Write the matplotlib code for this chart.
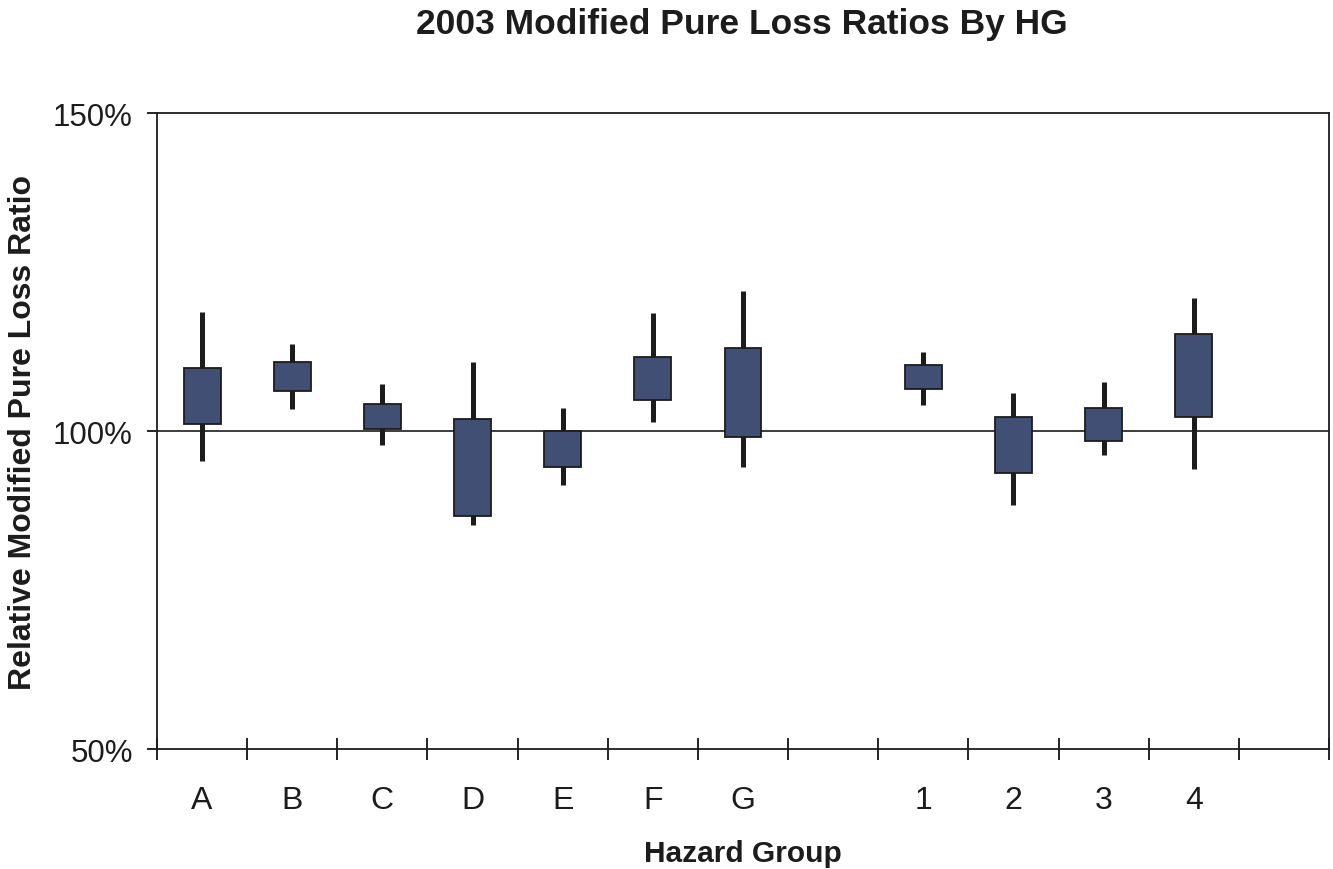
import matplotlib
matplotlib.use("Agg")
import matplotlib.pyplot as plt
from matplotlib.ticker import FixedLocator, FuncFormatter
import numpy as np

# valores (em %)
labels = ["A", "B", "C", "D", "E", "F", "G", "", "1", "2", "3", "4", ""]
high = [118.8, 113.8, 107.4, 110.9, 103.7, 118.6, 122.1, None, 112.5, 106.0, 107.7, 120.9, None]
box_top = [110.0, 110.9, 104.3, 102.0, 100.1, 111.7, 113.1, None, 110.4, 102.3, 103.7, 115.3, None]
box_bottom = [101.2, 106.4, 100.3, 86.6, 94.4, 104.9, 99.1, None, 106.7, 93.4, 98.5, 102.3, None]
low = [95.3, 103.5, 97.9, 85.3, 91.6, 101.4, 94.4, None, 104.1, 88.4, 96.2, 94.0, None]
yticks = [50, 100, 150]

box_color = "#424f74"
dark = "#1c1c1c"
plt.rcParams["font.family"] = ["Liberation Sans", "DejaVu Sans"]

fig = plt.figure(figsize=(13.33, 8.7), dpi=100)
ax = fig.add_axes([0.1178, 0.1379, 0.8792, 0.7305])

centers = np.arange(len(labels)) + 0.5
idx = [i for i, h in enumerate(high) if h is not None]

# linhas de maximo/minimo (atras das caixas)
ax.vlines([centers[i] for i in idx], [low[i] for i in idx], [high[i] for i in idx],
          color=dark, linewidth=3.6, zorder=2)

# caixas
ax.bar([centers[i] for i in idx],
       [box_top[i] - box_bottom[i] for i in idx],
       bottom=[box_bottom[i] for i in idx],
       width=0.41, color=box_color, edgecolor=dark, linewidth=1.3, zorder=3)

ax.axhline(100, color=dark, linewidth=1.2, zorder=1)

ax.set_xlim(0, len(labels))
ax.set_ylim(50, 150)

# eixo y
ax.yaxis.set_major_locator(FixedLocator(yticks))
ax.yaxis.set_major_formatter(FuncFormatter(lambda v, p: f"{v:.0f}%"))
ax.tick_params(axis="y", direction="out", length=7.5, width=1.2, pad=10,
               labelsize=22.5, labelcolor=dark)

# eixo x: marcas entre as categorias, rotulos no centro
ax.xaxis.set_major_locator(FixedLocator(centers))
ax.set_xticklabels(labels, fontsize=23, color=dark)
ax.tick_params(axis="x", which="major", length=0, pad=26)
ax.xaxis.set_minor_locator(FixedLocator(np.arange(len(labels) + 1)))
ax.tick_params(axis="x", which="minor", direction="inout", length=16, width=1.2)

for s in ax.spines.values():
    s.set_linewidth(1.3)
    s.set_color(dark)

ax.set_ylabel("Relative Modified Pure Loss Ratio", fontsize=23, fontweight="bold", color=dark)
ax.yaxis.set_label_coords(-0.1015, 0.5)
ax.set_xlabel("Hazard Group", fontsize=21.5, fontweight="bold", color=dark)
ax.xaxis.set_label_coords(0.5, -0.141)

fig.text(0.5566, 0.9605, "2003 Modified Pure Loss Ratios By HG", ha="center", va="baseline",
         fontsize=25.5, fontweight="bold", color=dark)

fig.savefig("out.png", dpi=100)
